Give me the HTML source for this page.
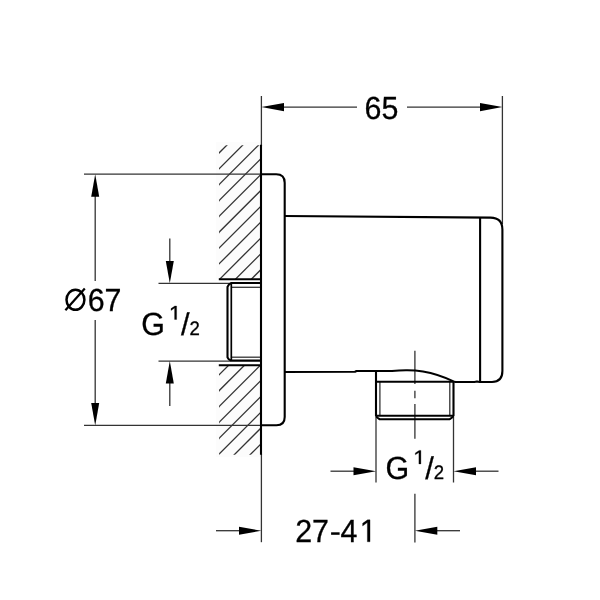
<!DOCTYPE html>
<html><head><meta charset="utf-8">
<style>
html,body{margin:0;padding:0;background:#fff;width:600px;height:600px;overflow:hidden}
svg{display:block;will-change:transform}
text{font-family:"Liberation Sans",sans-serif;fill:#000}
</style></head><body>
<svg width="600" height="600" viewBox="0 0 600 600">
<defs>
<path id="one" d="M515 0V1237L197 1010V1180L530 1409H696V0Z" stroke="#000" stroke-width="0.3" vector-effect="non-scaling-stroke"/>
<path id="one2" d="M484 0V1190L90 950V1140L510 1409H704V0Z" stroke="#000" stroke-width="0.3" vector-effect="non-scaling-stroke"/>
<clipPath id="hu"><rect x="219" y="145.3" width="42" height="134"/></clipPath>
<clipPath id="hl"><rect x="219" y="365" width="42" height="89.7"/></clipPath>
</defs>
<!-- hatch background -->
<rect x="216" y="142" width="45" height="137" fill="#fcfcfc"/>
<rect x="216" y="365" width="45" height="92" fill="#fcfcfc"/>
<g stroke="#333" stroke-width="1.3" fill="none"><g clip-path="url(#hu)"><line x1="89.80" y1="282.20" x2="229.70" y2="142.30"/><line x1="105.65" y1="282.20" x2="245.55" y2="142.30"/><line x1="121.50" y1="282.20" x2="261.40" y2="142.30"/><line x1="137.35" y1="282.20" x2="277.25" y2="142.30"/><line x1="153.20" y1="282.20" x2="293.10" y2="142.30"/><line x1="169.05" y1="282.20" x2="308.95" y2="142.30"/><line x1="184.90" y1="282.20" x2="324.80" y2="142.30"/><line x1="200.75" y1="282.20" x2="340.65" y2="142.30"/><line x1="216.60" y1="282.20" x2="356.50" y2="142.30"/><line x1="232.45" y1="282.20" x2="372.35" y2="142.30"/><line x1="248.30" y1="282.20" x2="388.20" y2="142.30"/></g><g clip-path="url(#hl)"><line x1="136.20" y1="457.70" x2="231.60" y2="362.30"/><line x1="152.05" y1="457.70" x2="247.45" y2="362.30"/><line x1="167.90" y1="457.70" x2="263.30" y2="362.30"/><line x1="183.75" y1="457.70" x2="279.15" y2="362.30"/><line x1="199.60" y1="457.70" x2="295.00" y2="362.30"/><line x1="215.45" y1="457.70" x2="310.85" y2="362.30"/><line x1="231.30" y1="457.70" x2="326.70" y2="362.30"/><line x1="247.15" y1="457.70" x2="342.55" y2="362.30"/></g></g>
<!-- thin lines -->
<g stroke="#333" stroke-width="1.3" fill="none">
<!-- 65 dim -->
<line x1="261.4" y1="96" x2="261.4" y2="146"/>
<line x1="502.4" y1="96" x2="502.4" y2="224"/>
<line x1="283" y1="107.1" x2="357" y2="107.1"/>
<line x1="407" y1="107.1" x2="480" y2="107.1"/>
<!-- Ø67 -->
<line x1="84" y1="174.2" x2="261" y2="174.2"/>
<line x1="84" y1="425.4" x2="261" y2="425.4"/>
<line x1="95.2" y1="196" x2="95.2" y2="281"/>
<line x1="95.2" y1="320" x2="95.2" y2="404"/>
<!-- G1/2 left -->
<line x1="158.5" y1="283.3" x2="231" y2="283.3"/>
<line x1="158.5" y1="361.1" x2="231" y2="361.1"/>
<line x1="169.8" y1="238.5" x2="169.8" y2="262"/>
<line x1="169.8" y1="383" x2="169.8" y2="406"/>
<!-- G1/2 bottom -->
<line x1="376" y1="417" x2="376" y2="482.5"/>
<line x1="453.5" y1="417" x2="453.5" y2="482.5"/>
<line x1="330.5" y1="471.2" x2="354" y2="471.2"/>
<line x1="476" y1="471.2" x2="498.5" y2="471.2"/>
<!-- 27-41 -->
<line x1="261.4" y1="454" x2="261.4" y2="542.2"/>
<line x1="414.9" y1="493.7" x2="414.9" y2="542.5"/>
<line x1="216" y1="530.7" x2="239" y2="530.7"/>
<line x1="437" y1="530.7" x2="460" y2="530.7"/>
<!-- centerline -->
<path d="M414.9 350.8V384M414.9 390.8V398.3M414.9 404V438.8"/>
<!-- thread inner thin lines -->
<line x1="379.9" y1="382" x2="379.9" y2="415.5"/>
<line x1="449.8" y1="382" x2="449.8" y2="415.5"/>
<line x1="231.3" y1="287.3" x2="261" y2="287.3"/>
<line x1="231.3" y1="357.2" x2="261" y2="357.2"/>
</g>
<!-- arrows -->
<g fill="#000" stroke="none">
<path d="M261.4 107.1L284 103.1L284 111.3Z"/>
<path d="M502.4 107.1L480 103.1L480 111.3Z"/>
<path d="M95.2 174.2L91.2 196.8L99.2 196.8Z"/>
<path d="M95.2 425.4L91.2 403L99.2 403Z"/>
<path d="M169.8 283.3L165.8 261L173.8 261Z"/>
<path d="M169.8 361.1L165.8 383.5L173.8 383.5Z"/>
<path d="M376 471.2L353.5 467.2L353.5 475.2Z"/>
<path d="M453.5 471.2L476 467.2L476 475.2Z"/>
<path d="M261.4 530.7L239 526.7L239 534.7Z"/>
<path d="M414.9 530.7L437.3 526.7L437.3 534.7Z"/>
</g>
<!-- thick outlines -->
<g stroke="#000" stroke-width="2.1" fill="none" stroke-linejoin="round">
<!-- wall line -->
<line x1="261" y1="144.8" x2="261" y2="454.8"/>
<!-- hatch boundaries -->
<line x1="218.8" y1="279.2" x2="261" y2="279.2"/>
<line x1="218.8" y1="365.3" x2="261" y2="365.3"/>
<!-- flange -->
<path d="M261 174.2H276.2Q284.7 174.2 284.7 182.7V417Q284.7 425.3 276.5 425.3H261"/>
<!-- body -->
<path d="M284.7 216L490.5 217.6Q502.4 217.8 502.4 229.5V371Q502.4 382 492 382H479.5L477 381.4L474.5 382H457.6"/>
<line x1="480.1" y1="217.6" x2="480.1" y2="382"/>
<path d="M284.7 372L355 371.8L356.5 371H392Q399 370.3 406 370.3Q415 370.2 423 371.5Q438 374 453.5 381.4Q455.5 382 458 382"/>
<!-- outlet pipe -->
<path d="M376 371V415.7Q376.5 417.5 379.7 419.2H449.8Q452.8 417.5 453.5 415.7V381.4"/>
<line x1="376" y1="381.8" x2="453.5" y2="381.8"/>
<line x1="376" y1="415.7" x2="453.5" y2="415.7"/>
<!-- left pipe -->
<path d="M261 283H231.3Q228.5 284 227.5 286.8V357.3Q228.5 360 231.3 360.6H261"/>
<line x1="231.3" y1="283" x2="231.3" y2="360.6" stroke-width="1.7"/>
</g>
<!-- text -->
<g text-rendering="geometricPrecision" stroke="#000" stroke-width="0.3">
<text transform="translate(381.5,118.6) scale(0.95,1)" font-size="32" text-anchor="middle">65</text>
<ellipse cx="75.45" cy="299.8" rx="8.95" ry="10.0" fill="none" stroke-width="2.5"/>
<line x1="65.4" y1="310.2" x2="84.8" y2="288.6" stroke-width="2.2"/>
<text transform="translate(87.65,311) scale(0.95,1)" font-size="32">67</text>
<g id="g12">
<text transform="translate(141.2,335) scale(0.95,1)" font-size="32">G</text>
<use href="#one2" transform="translate(170.2,319.5) scale(0.00909,-0.00957)"/>
<text transform="translate(181,334.7) scale(0.98,1)" font-size="31.5">/</text>
<text transform="translate(189.4,334.7) scale(0.95,1)" font-size="19.6">2</text>
</g>
<use href="#g12" transform="translate(244.3,144.4)"/>
<text transform="translate(295.2,541.8) scale(0.95,1)" font-size="32">27</text>
<rect x="331.1" y="532.3" width="8.5" height="2.5" stroke="none"/>
<text transform="translate(340.5,541.8) scale(0.95,1)" font-size="32">4</text>
<use href="#one" transform="translate(359.7,541.8) scale(0.014844,-0.015625)"/>
</g>
</svg>

</body></html>
